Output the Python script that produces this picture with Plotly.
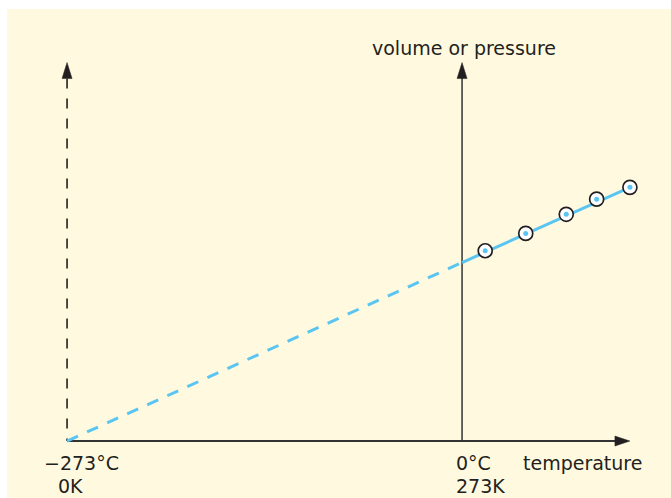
import plotly.graph_objects as go

# ---- data ----
temps_c = [16, 44, 72, 93, 116]              # measured temperatures (°C)
volumes = [106.6, 116.3, 127.0, 135.5, 142.1]  # volume or pressure (arb. units)

abs_zero_c = -273          # absolute zero (°C)
v_at_zero_c = 100          # value at 0 °C on the fitted line
v_at_abs_zero = 0
solid_end_t = 116
solid_end_v = 142.1
axis_top = 212             # top of vertical axes (value units)
axis_right = 116           # right end of temperature axis (°C)

labels_left = ["\u2212273\u00b0C", "0K"]
labels_mid = ["0\u00b0C", "273K"]
x_title = "temperature"
y_title = "volume or pressure"

# ---- geometry ----
W, H = 671, 498
ML, MT = 7, 9
XR = [-314.5, 144.4]
YR = [-31.9, 242.0]
pxx = (W - ML) / (XR[1] - XR[0])
pxy = (H - MT) / (YR[1] - YR[0])

INK = "#231F20"
AX = "#333333"
BLUE = "#5BC5F2"
CREAM = "#FFFADF"
FONT = dict(family="DejaVu Sans", size=19, color=INK)

fig = go.Figure()

# left dashed vertical (absolute zero)
fig.add_trace(go.Scatter(
    x=[abs_zero_c, abs_zero_c], y=[axis_top - 16 / pxy, v_at_abs_zero],
    mode="lines", line=dict(color=INK, width=1.6, dash="10px,10px"),
    hoverinfo="skip"))
# vertical axis at 0 °C
fig.add_trace(go.Scatter(
    x=[0, 0], y=[v_at_abs_zero, axis_top - 14 / pxy],
    mode="lines", line=dict(color=AX, width=1.5), hoverinfo="skip"))
# horizontal temperature axis
fig.add_trace(go.Scatter(
    x=[abs_zero_c, axis_right - 13 / pxx], y=[v_at_abs_zero, v_at_abs_zero],
    mode="lines", line=dict(color=AX, width=2), hoverinfo="skip"))

# extrapolated (dashed) part
fig.add_trace(go.Scatter(
    x=[abs_zero_c, 0], y=[v_at_abs_zero, v_at_zero_c],
    mode="lines", line=dict(color=BLUE, width=3, dash="12px,10px"),
    hoverinfo="skip"))
# measured (solid) part
fig.add_trace(go.Scatter(
    x=[0, solid_end_t], y=[v_at_zero_c, solid_end_v],
    mode="lines", line=dict(color=BLUE, width=3), hoverinfo="skip"))

# data points: open circles with blue centre dot
fig.add_trace(go.Scatter(
    x=temps_c, y=volumes, mode="markers",
    marker=dict(symbol="circle", size=14, color="white",
                line=dict(color=INK, width=1.7)),
    hoverinfo="skip"))
fig.add_trace(go.Scatter(
    x=temps_c, y=volumes, mode="markers",
    marker=dict(symbol="circle", size=5, color=BLUE, line=dict(width=0)),
    hoverinfo="skip"))

# arrowheads
def up_arrow(xc, ytip):
    hw, ln = 5 / pxx, 16 / pxy
    return [xc - hw, xc + hw, xc, xc - hw], [ytip - ln, ytip - ln, ytip, ytip - ln]

def right_arrow(xtip, yc):
    hh, ln = 5 / pxy, 15 / pxx
    return [xtip - ln, xtip - ln, xtip, xtip - ln], [yc - hh, yc + hh, yc, yc - hh]

for xs, ys in (up_arrow(abs_zero_c, axis_top), up_arrow(0, axis_top),
               right_arrow(axis_right, v_at_abs_zero)):
    fig.add_trace(go.Scatter(x=xs, y=ys, mode="lines", fill="toself",
                             fillcolor=INK, line=dict(color=INK, width=0.5),
                             hoverinfo="skip"))

# text labels
ann = [
    dict(x=0, y=axis_top, text=y_title, xanchor="center", yanchor="middle",
         xshift=2, yshift=15),
    dict(x=axis_right, y=v_at_abs_zero, text=x_title, xanchor="right",
         yanchor="middle", xshift=14, yshift=-22),
    dict(x=0, y=v_at_abs_zero, text=labels_mid[0], xanchor="left",
         yanchor="middle", xshift=-8, yshift=-22),
    dict(x=0, y=v_at_abs_zero, text=labels_mid[1], xanchor="left",
         yanchor="middle", xshift=-8, yshift=-45),
    dict(x=abs_zero_c, y=v_at_abs_zero, text=labels_left[0], xanchor="left",
         yanchor="middle", xshift=-25, yshift=-22),
    dict(x=abs_zero_c, y=v_at_abs_zero, text=labels_left[1], xanchor="left",
         yanchor="middle", xshift=-11, yshift=-45),
]
for a in ann:
    fig.add_annotation(showarrow=False, font=FONT, xref="x", yref="y", **a)

fig.update_layout(
    width=W, height=H,
    margin=dict(l=ML, t=MT, r=0, b=0, pad=0),
    paper_bgcolor="white", plot_bgcolor=CREAM,
    showlegend=False,
    xaxis=dict(range=XR, visible=False, fixedrange=True),
    yaxis=dict(range=YR, visible=False, fixedrange=True),
)

fig.write_html(
    "out.html",
    config={"displayModeBar": False},
    post_script="document.body.style.margin='0';document.body.style.overflow='hidden';",
)
